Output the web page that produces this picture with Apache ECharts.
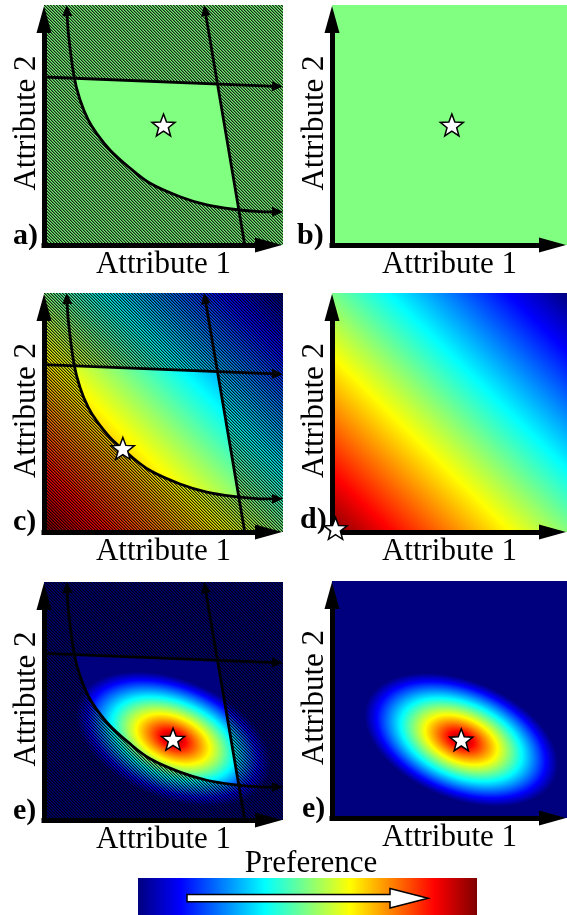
<!DOCTYPE html>
<html>
<head>
<meta charset="utf-8">
<script src="https://cdn.jsdelivr.net/npm/echarts@6/dist/echarts.min.js"></script>
<style>
html,body{margin:0;padding:0;background:#ffffff;}
#chart{width:567px;height:915px;}
</style>
</head>
<body>
<div id="chart"></div>
<script>
// ---------------- data ----------------
const panelLabels = ['a)', 'b)', 'c)', 'd)', 'e)', 'e)'];
const panelFields = ['flat', 'flat', 'linear', 'linear', 'ellipse', 'ellipse'];
const panelConstrained = [true, false, true, false, true, false];
const starX = [5.0, 5.1, 3.3, 0.15, 5.4, 5.5];
const starY = [5.0, 5.0, 3.5, 0.15, 3.4, 3.3];
const xAxisName = 'Attribute 1';
const yAxisName = 'Attribute 2';
const colorbarTitle = 'Preference';
// constraints, in attribute units (0..10 across each panel)
const topLineX = [0, 10];
const topLineY = [7.0, 6.6];
const rightLineX = [8.4, 6.7];
const rightLineY = [0, 10];
const curveX = [0.95, 1.02, 1.26, 1.51, 1.85, 2.20, 2.76, 3.53, 4.44, 5.69, 6.81, 7.92, 9.04, 10.0];
const curveY = [10.0, 8.82, 7.01, 6.04, 5.21, 4.65, 3.96, 3.26, 2.57, 2.01, 1.67, 1.49, 1.39, 1.39];
// preference ellipse (panels e)
const ellipseCenterX = [5.4, 5.5];
const ellipseCenterY = [3.4, 3.3];
const ellipseSemiAxes = [4.3, 2.5];
const ellipseTiltDeg = 22;
// jet colour scale
const jetPos = [0, 0.125, 0.375, 0.5, 0.625, 0.875, 1];
const jetCol = ['#00007f', '#0000ff', '#00ffff', '#80ff80', '#ffff00', '#ff0000', '#7f0000'];
const feasibleGreen = '#80ff80';
const FIELD_MAX = 10;

// ---------------- layout (pixels) ----------------
const fieldLeft = [44, 332, 44, 332, 44, 332];
const fieldTop = [5, 5, 293, 293, 582, 581];
const fieldWidth = [239, 235, 239, 235, 239, 235];
const fieldHeight = [240, 240, 239, 239, 238, 237];
const arrowLen = 27, arrowWid = 15;
const labelX = [13, 297, 13, 300, 13, 302];
const labelY = [251, 251, 537, 535, 826, 824];
const FONT = '"Liberation Serif", "Times New Roman", serif';

function stops(reverse) {
  const n = jetCol.length;
  return jetPos.map((p, i) => ({offset: p, color: reverse ? jetCol[n - 1 - i] : jetCol[i]}));
}

function makeHatch() {
  const c = document.createElement('canvas');
  c.width = 3; c.height = 3;
  const ctx = c.getContext('2d');
  const img = ctx.createImageData(3, 3);
  const alphas = [0.85, 0.42, 0.1];
  for (let y = 0; y < 3; y++) {
    for (let x = 0; x < 3; x++) {
      const k = ((x - y) % 3 + 3) % 3;
      const idx = (y * 3 + x) * 4;
      img.data[idx] = 0; img.data[idx + 1] = 0; img.data[idx + 2] = 0;
      img.data[idx + 3] = Math.round(alphas[k] * 255);
    }
  }
  ctx.putImageData(img, 0, 0);
  return c;
}
const hatchCanvas = makeHatch();

function fieldRect(api) {
  const p0 = api.coord([0, 0]), p1 = api.coord([FIELD_MAX, FIELD_MAX]);
  return {x: p0[0], y: p1[1], width: p1[0] - p0[0], height: p0[1] - p1[1], p0: p0, p1: p1};
}

function fieldElements(i, api) {
  const r = fieldRect(api);
  const shape = {x: r.x, y: r.y, width: r.width, height: r.height};
  const kind = panelFields[i];
  if (kind === 'flat') {
    return [{type: 'rect', shape: shape, style: {fill: feasibleGreen}}];
  }
  if (kind === 'linear') {
    return [{type: 'rect', shape: shape, style: {fill: {
      type: 'linear', x: r.p0[0], y: r.p0[1], x2: r.p1[0], y2: r.p1[1], global: true,
      colorStops: stops(true)
    }}}];
  }
  const k = i === 4 ? 0 : 1;
  const c = api.coord([ellipseCenterX[k], ellipseCenterY[k]]);
  const sa = api.size([ellipseSemiAxes[0], ellipseSemiAxes[0]]);
  const sb = api.size([ellipseSemiAxes[1], ellipseSemiAxes[1]]);
  return [
    {type: 'rect', shape: shape, style: {fill: jetCol[0]}},
    {type: 'circle', shape: {cx: 0, cy: 0, r: 1}, x: c[0], y: c[1],
      scaleX: (sa[0] + sa[1]) / 2, scaleY: (sb[0] + sb[1]) / 2,
      rotation: -ellipseTiltDeg * Math.PI / 180,
      style: {fill: {type: 'radial', x: 0.5, y: 0.5, r: 0.5, colorStops: stops(true)}}}
  ];
}

function lerp(a, b, t) { return [a[0] + (b[0] - a[0]) * t, a[1] + (b[1] - a[1]) * t]; }
function fmt(p) { return p[0].toFixed(2) + ',' + p[1].toFixed(2); }
function curveSegments(pts) {
  const segs = [], n = pts.length;
  for (let i = 0; i < n - 1; i++) {
    const p0 = pts[Math.max(i - 1, 0)], p1 = pts[i], p2 = pts[i + 1], p3 = pts[Math.min(i + 2, n - 1)];
    const c1 = [p1[0] + (p2[0] - p0[0]) / 6, p1[1] + (p2[1] - p0[1]) / 6];
    const c2 = [p2[0] - (p3[0] - p1[0]) / 6, p2[1] - (p3[1] - p1[1]) / 6];
    segs.push([p1, c1, c2, p2]);
  }
  return segs;
}
function splitSeg(s, t) {
  const P01 = lerp(s[0], s[1], t), P12 = lerp(s[1], s[2], t), P23 = lerp(s[2], s[3], t);
  const P012 = lerp(P01, P12, t), P123 = lerp(P12, P23, t), P = lerp(P012, P123, t);
  return [[s[0], P01, P012, P], [P, P123, P23, s[3]]];
}
function segsPath(segs) {
  let d = 'M' + fmt(segs[0][0]);
  segs.forEach(s => { d += ' C' + fmt(s[1]) + ' ' + fmt(s[2]) + ' ' + fmt(s[3]); });
  return d;
}
function dist(a, b) { return Math.hypot(a[0] - b[0], a[1] - b[1]); }
function unit(a, b) { const d = dist(a, b); return [(b[0] - a[0]) / d, (b[1] - a[1]) / d]; }
function arrowHead(tip, dir, L, W) {
  const b = [tip[0] - dir[0] * L, tip[1] - dir[1] * L];
  const n = [-dir[1], dir[0]];
  return {type: 'polygon', shape: {points: [tip, [b[0] + n[0] * W / 2, b[1] + n[1] * W / 2], [b[0] - n[0] * W / 2, b[1] - n[1] * W / 2]]},
    style: {fill: '#000'}};
}
function intersect(a1, a2, b1, b2) {
  const d = (a1[0] - a2[0]) * (b1[1] - b2[1]) - (a1[1] - a2[1]) * (b1[0] - b2[0]);
  const t = ((a1[0] - b1[0]) * (b1[1] - b2[1]) - (a1[1] - b1[1]) * (b1[0] - b2[0])) / d;
  return [a1[0] + t * (a2[0] - a1[0]), a1[1] + t * (a2[1] - a1[1])];
}
function curvePixels(api) { return curveX.map((x, j) => api.coord([x, curveY[j]])); }

function feasibleGroup(i, api) {
  const pts = curvePixels(api);
  const segs = curveSegments(pts);
  const cornerTR = api.coord([FIELD_MAX, FIELD_MAX]);
  const insideCurve = segsPath(segs) + ' L' + fmt(cornerTR) + ' Z';
  const t0 = api.coord([topLineX[0], topLineY[0]]), t1 = api.coord([topLineX[1], topLineY[1]]);
  const r0 = api.coord([rightLineX[0], rightLineY[0]]), r1 = api.coord([rightLineX[1], rightLineY[1]]);
  const I = intersect(t0, t1, r0, r1);
  const origin = api.coord([0, 0]);
  const kind = panelFields[i];
  let children;
  if (kind === 'flat') {
    const r = fieldRect(api);
    children = [{type: 'rect', shape: {x: r.x, y: r.y, width: r.width, height: r.height}, style: {fill: feasibleGreen}}];
  } else {
    children = fieldElements(i, api);
  }
  return {
    type: 'group',
    clipPath: {type: 'polygon', shape: {points: [origin, t0, I, r0]}},
    children: [{
      type: 'group',
      clipPath: {type: 'path', shape: {pathData: insideCurve}},
      children: children
    }]
  };
}

function constraintLines(api) {
  const L = 11, W = 10, LW = 2.8;
  const els = [];
  const straight = [
    [api.coord([topLineX[0], topLineY[0]]), api.coord([topLineX[1], topLineY[1]])],
    [api.coord([rightLineX[0], rightLineY[0]]), api.coord([rightLineX[1], rightLineY[1]])]
  ];
  straight.forEach(s => {
    const d = unit(s[0], s[1]);
    const end = [s[1][0] - d[0] * (L - 3), s[1][1] - d[1] * (L - 3)];
    els.push({type: 'polyline', shape: {points: [s[0], end]}, style: {stroke: '#000', lineWidth: LW, fill: null}});
    els.push(arrowHead(s[1], d, L, W));
  });
  const pts = curvePixels(api);
  const segs = curveSegments(pts);
  const first = segs[0], last = segs[segs.length - 1];
  const trimmed = segs.slice();
  trimmed[0] = splitSeg(first, (L - 3) / dist(first[0], first[3]))[1];
  trimmed[segs.length - 1] = splitSeg(last, 1 - (L - 3) / dist(last[0], last[3]))[0];
  els.push({type: 'path', shape: {pathData: segsPath(trimmed)}, style: {stroke: '#000', lineWidth: LW, fill: null}});
  els.push(arrowHead(first[0], unit(first[1], first[0]), L, W));
  els.push(arrowHead(last[3], unit(last[2], last[3]), L, W));
  return {type: 'group', children: els};
}

// star symbol
let starPath = 'path://';
for (let k = 0; k < 10; k++) {
  const ang = (-90 + 36 * k) * Math.PI / 180;
  const rr = k % 2 === 0 ? 50 : 21;
  starPath += (k === 0 ? 'M' : 'L') + (50 + rr * Math.cos(ang)).toFixed(2) + ',' + (50 + rr * Math.sin(ang)).toFixed(2) + ' ';
}
starPath += 'Z';

// ---------------- option ----------------
const grids = [], xAxes = [], yAxes = [], series = [];
for (let i = 0; i < 6; i++) {
  const gw = fieldWidth[i] - arrowLen, gh = fieldHeight[i] - arrowLen;
  grids.push({left: fieldLeft[i], top: fieldTop[i] + arrowLen, width: gw, height: gh, containLabel: false, outerBoundsMode: 'none'});
  const axisCommon = {
    gridIndex: i, type: 'value', min: 0, z: 10,
    nameLocation: 'middle',
    axisLine: {show: true, onZero: false, symbol: ['none', 'triangle'], symbolSize: [arrowWid, arrowLen],
      symbolOffset: [0, arrowLen / 2 - 1], lineStyle: {color: '#000', width: 5, cap: 'square'}},
    axisTick: {show: false}, axisLabel: {show: false}, splitLine: {show: false}
  };
  xAxes.push(Object.assign({}, axisCommon, {
    max: FIELD_MAX * gw / fieldWidth[i], name: xAxisName, nameGap: 4,
    nameTextStyle: {fontFamily: FONT, fontSize: 31, color: '#000', padding: [0, 0, 0, arrowLen]}
  }));
  yAxes.push(Object.assign({}, axisCommon, {
    max: FIELD_MAX * gh / fieldHeight[i], name: yAxisName, nameGap: 2,
    nameTextStyle: {fontFamily: FONT, fontSize: 31, color: '#000', padding: [0, 0, 0, arrowLen + 4]}
  }));
  const common = {xAxisIndex: i, yAxisIndex: i, silent: true, data: [0], animation: false};
  series.push(Object.assign({}, common, {type: 'custom', z: 1,
    renderItem: (p, api) => ({type: 'group', children: fieldElements(i, api)})}));
  if (panelConstrained[i]) {
    series.push(Object.assign({}, common, {type: 'custom', z: 2,
      renderItem: (p, api) => {
        const r = fieldRect(api);
        return {type: 'rect', shape: {x: r.x, y: r.y, width: r.width, height: r.height},
          style: {fill: {image: hatchCanvas, repeat: 'repeat'}}};
      }}));
    series.push(Object.assign({}, common, {type: 'custom', z: 3,
      renderItem: (p, api) => feasibleGroup(i, api)}));
    series.push(Object.assign({}, common, {type: 'custom', z: 4,
      renderItem: (p, api) => constraintLines(api)}));
  }
  series.push({type: 'scatter', xAxisIndex: i, yAxisIndex: i, z: 20, silent: true, clip: false, animation: false,
    data: [[starX[i], starY[i]]], symbol: starPath, symbolSize: 23, symbolKeepAspect: true,
    itemStyle: {color: '#ffffff', borderColor: '#000000', borderWidth: 1.5, opacity: 1}});
}

const graphic = [];
panelLabels.forEach((t, i) => {
  graphic.push({type: 'text', x: labelX[i], y: labelY[i], z: 30,
    style: {text: t, font: 'bold 30px ' + FONT, fill: '#000', align: 'left', verticalAlign: 'bottom',
      textAlign: 'left', textVerticalAlign: 'bottom'}});
});
graphic.push({type: 'text', x: 311, y: 864, z: 30,
  style: {text: colorbarTitle, font: '31px ' + FONT, fill: '#000', align: 'center', verticalAlign: 'middle',
    textAlign: 'center', textVerticalAlign: 'middle'}});
graphic.push({type: 'rect', z: 30, shape: {x: 138, y: 878, width: 339, height: 37},
  style: {fill: {type: 'linear', x: 0, y: 0, x2: 1, y2: 0, colorStops: stops(false)}}});
graphic.push({type: 'polygon', z: 31, shape: {points: [[187, 894.5], [390, 894.5], [390, 888.5], [428, 898.2], [390, 908], [390, 901.8], [187, 901.8]]},
  style: {fill: '#ffffff', stroke: '#000000', lineWidth: 1.5}});

const chart = echarts.init(document.getElementById('chart'), null, {renderer: 'canvas', width: 567, height: 915});
chart.setOption({
  animation: false,
  backgroundColor: '#ffffff',
  textStyle: {fontFamily: FONT},
  grid: grids, xAxis: xAxes, yAxis: yAxes, series: series, graphic: graphic
});
</script>
</body>
</html>
